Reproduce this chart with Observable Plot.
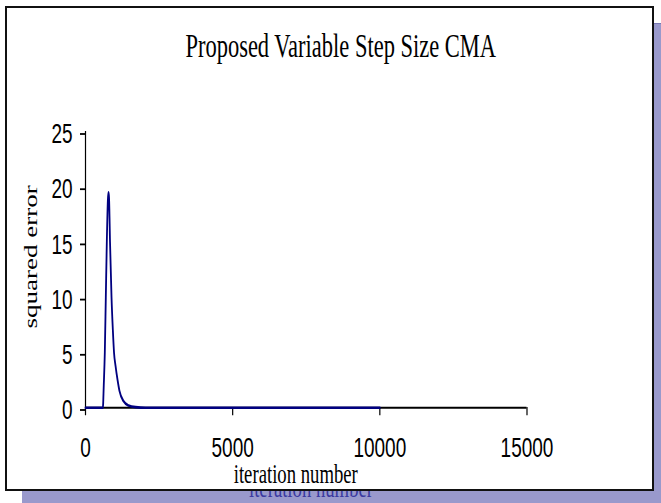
<!DOCTYPE html>
<html>
<head>
<meta charset="utf-8">
<script src="https://cdn.jsdelivr.net/npm/d3@7"></script>
<script src="https://cdn.jsdelivr.net/npm/@observablehq/plot@0.6"></script>
<style>
  html, body { margin: 0; padding: 0; background: #ffffff; }
  #stage { position: relative; width: 661px; height: 503px; overflow: hidden; background: #ffffff; }
  #shadow { position: absolute; left: 22px; top: 23px; width: 700px; height: 520px; background: #9999cc; border-top: 1px solid #7777b3; box-sizing: border-box; }
  #ghostclip { position: absolute; left: 0; top: 491px; width: 661px; height: 12px; overflow: hidden; }
  #ghost { position: absolute; left: 211px; width: 200px; top: -17px; text-align: center; font-family: "Liberation Serif", serif; font-size: 18.7px; line-height: 1; color: #3a3aa0; transform: scaleY(1.5); transform-origin: 0 0; white-space: nowrap; }
  #frame { position: absolute; left: 5px; top: 6px; width: 649px; height: 485px; box-sizing: border-box; border: 2px solid #111; background: #ffffff; }
  #chart { position: absolute; left: 0; top: 0; transform: scaleY(1.5); transform-origin: 0 0; }
</style>
</head>
<body>
<div id="stage">
  <div id="shadow"></div>
  <div id="ghostclip"><div id="ghost">iteration number</div></div>
  <div id="frame"></div>
  <div id="chart"></div>
</div>
<script>
// ---- data ----
const iterations = [0, 590, 620, 656, 690, 724, 760, 782, 800, 833, 884, 930, 969, 1020, 1090, 1156, 1292, 1462, 1700, 2040, 3000, 5000, 7500, 10000];
const squaredError = [0, 0, 2, 5, 10, 15, 18.8, 19.5, 19, 15, 10, 7, 5, 3.8, 2.5, 1.5, 0.6, 0.2, 0.05, 0, 0, 0, 0, 0];
const xTicks = [0, 5000, 10000, 15000];
const yTicks = [0, 5, 10, 15, 20, 25];
const titleText = ["Proposed Variable Step Size CMA"];
const xLabel = ["iteration number"];
const yLabel = ["squared error"];

const data = iterations.map((it, i) => ({iteration: it, err: squaredError[i]}));

const S = 1.5; // vertical stretch of the original figure
const H = 503 / S;

const chart = Plot.plot({
  width: 661,
  height: H,
  marginLeft: 85,
  marginRight: 134.5,
  marginTop: 131 / S,
  marginBottom: H - 407 / S,
  style: {background: "transparent", fontFamily: "'Liberation Sans', Arial, sans-serif", fontSize: "19px", color: "#000", overflow: "visible"},
  x: {domain: [0, 15000]},
  y: {domain: [0, 25]},
  marks: [
    Plot.ruleY([0], {stroke: "#000", strokeWidth: 1.2}),
    Plot.ruleX([0], {stroke: "#000", strokeWidth: 1.2}),
    Plot.axisX({ticks: xTicks, tickFormat: d => String(d), tickSize: 5.5, tickPadding: 14, label: null, stroke: "#000", strokeWidth: 1.2, fontSize: 19, fill: "#000"}),
    Plot.axisY({ticks: yTicks, tickFormat: d => String(d), tickSize: 5, tickPadding: 8, label: null, stroke: "#000", strokeWidth: 1.2, fontSize: 19, fill: "#000", dy: 1.5}),
    Plot.line(data, {x: "iteration", y: "err", stroke: "#000080", strokeWidth: 1.8, curve: "monotone-x"}),
    Plot.text(titleText, {text: d => d, frameAnchor: "top", dx: 34.5, dy: -57.2, lineAnchor: "middle", fontSize: 22.5, fontFamily: "'Liberation Serif', 'Times New Roman', serif", fill: "#000"}),
    Plot.text(xLabel, {text: d => d, frameAnchor: "bottom", dx: -10.5, dy: 44, lineAnchor: "middle", fontSize: 18.7, fontFamily: "'Liberation Serif', 'Times New Roman', serif", fill: "#000"}),
    Plot.text(yLabel, {text: d => d, frameAnchor: "left", textAnchor: "middle", dx: -54, dy: -8.6, rotate: -90, lineAnchor: "middle", fontSize: 18, fontFamily: "'Liberation Serif', 'Times New Roman', serif", fill: "#000"})
  ]
});
document.getElementById("chart").appendChild(chart);
</script>
</body>
</html>
